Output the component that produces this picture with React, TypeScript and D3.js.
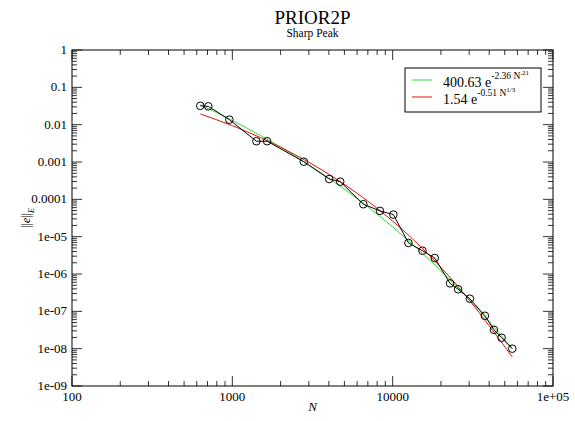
import React from "react";
import * as d3 from "d3";

const dataN = [631, 708, 958, 1413, 1648, 2790, 4020, 4710, 6560, 8330, 10100, 12540, 15340, 18300, 22800, 25600, 30300, 37600, 42800, 47800, 55700];
const dataE = [0.032, 0.031, 0.0136, 0.0036, 0.0036, 0.00102, 0.00035, 0.000297, 7.4e-5, 4.9e-5, 3.9e-5, 6.8e-6, 4.2e-6, 2.68e-6, 5.6e-7, 3.9e-7, 2.18e-7, 7.6e-8, 3.2e-8, 1.96e-8, 1.0e-8];

const fitN = [631, 1000, 1500, 2000, 3000, 4000, 6000, 8000, 10000, 15000, 20000, 30000, 40000, 55700];
const greenFit = [0.0342, 0.013, 5.1e-3, 2.5e-3, 8.43e-4, 3.67e-4, 1.045e-4, 4.0e-5, 1.82e-5, 3.92e-6, 1.22e-6, 2.06e-7, 5.3e-8, 1.0e-8];
const redFit = [0.0194, 9.39e-3, 4.49e-3, 2.49e-3, 9.85e-4, 4.69e-4, 1.455e-4, 5.73e-5, 2.61e-5, 5.31e-6, 1.5e-6, 2.02e-7, 4.1e-8, 6e-9];

const xTicks = [100, 1000, 10000, 100000];
const xTickLabels = ["100", "1000", "10000", "1e+05"];
const yTicks = [1, 0.1, 0.01, 0.001, 0.0001, 1e-5, 1e-6, 1e-7, 1e-8, 1e-9];
const yTickLabels = ["1", "0.1", "0.01", "0.001", "0.0001", "1e-05", "1e-06", "1e-07", "1e-08", "1e-09"];

const L = 72, R = 553, T = 50, B = 386;
const font = "'Liberation Serif', 'DejaVu Serif', serif";

export default function App() {
  const x = d3.scaleLog().domain([100, 1e5]).range([L, R]);
  const y = d3.scaleLog().domain([1e-9, 1]).range([B, T]);

  const xMinor: number[] = [];
  for (let d = 100; d < 1e5; d *= 10) for (let k = 2; k <= 9; k++) xMinor.push(d * k);
  const yMinor: number[] = [];
  for (let d = 1e-9; d < 0.99; d *= 10) for (let k = 2; k <= 9; k++) yMinor.push(d * k);

  const dataLine = d3.line<number>().x((_, i) => x(dataN[i])).y((v) => y(v));
  const fitLine = d3.line<number>().x((_, i) => x(fitN[i])).y((v) => y(v)).curve(d3.curveMonotoneX);

  const tickColor = "#333";
  return (
    <svg width={575} height={421} style={{ position: "absolute", left: 0, top: 0, background: "#fff" }}>
      <rect x={0} y={0} width={575} height={421} fill="#fff" />
      <text x={(L + R) / 2} y={24} textAnchor="middle" fontFamily={font} fontSize={19}>PRIOR2P</text>
      <text x={(L + R) / 2} y={37} textAnchor="middle" fontFamily={font} fontSize={11.5}>Sharp Peak</text>

      {/* minor ticks */}
      {xMinor.map((v, i) => (
        <g key={"xm" + i} stroke={tickColor} strokeWidth={1}>
          <line x1={x(v)} x2={x(v)} y1={B} y2={B - 5} />
          <line x1={x(v)} x2={x(v)} y1={T} y2={T + 5} />
        </g>
      ))}
      {xTicks.map((v, i) => (
        <g key={"xM" + i} stroke={tickColor} strokeWidth={1}>
          <line x1={x(v)} x2={x(v)} y1={B} y2={B - 10} />
          <line x1={x(v)} x2={x(v)} y1={T} y2={T + 10} />
        </g>
      ))}
      {yMinor.map((v, i) => (
        <g key={"ym" + i} stroke={tickColor} strokeWidth={1}>
          <line x1={L} x2={L + 5} y1={y(v)} y2={y(v)} />
          <line x1={R} x2={R - 5} y1={y(v)} y2={y(v)} />
        </g>
      ))}
      {yTicks.map((v, i) => (
        <g key={"yM" + i} stroke={tickColor} strokeWidth={1}>
          <line x1={L} x2={L + 10} y1={y(v)} y2={y(v)} />
          <line x1={R} x2={R - 10} y1={y(v)} y2={y(v)} />
        </g>
      ))}
      <rect x={L} y={T} width={R - L} height={B - T} fill="none" stroke="#000" strokeWidth={1} />

      {xTicks.map((v, i) => (
        <text key={"xl" + i} x={x(v)} y={B + 15} textAnchor="middle" fontFamily={font} fontSize={13}>{xTickLabels[i]}</text>
      ))}
      {yTicks.map((v, i) => (
        <text key={"yl" + i} x={L - 5} y={y(v) + 4} textAnchor="end" fontFamily={font} fontSize={13}>{yTickLabels[i]}</text>
      ))}
      <text x={(L + R) / 2} y={411} textAnchor="middle" fontFamily={font} fontSize={13} fontStyle="italic">N</text>
      <text transform={`translate(30,${(T + B) / 2}) rotate(-90)`} textAnchor="middle" fontFamily={font} fontSize={12}>
        ||<tspan fontStyle="italic">e</tspan>||<tspan fontSize={8} dy={4} fontStyle="italic">E</tspan>
      </text>

      <path d={fitLine(greenFit) || ""} fill="none" stroke="#33dd33" strokeWidth={1} />
      <path d={fitLine(redFit) || ""} fill="none" stroke="#e01010" strokeWidth={1} />
      <path d={dataLine(dataE) || ""} fill="none" stroke="#000" strokeWidth={1} />
      {dataE.map((v, i) => (
        <circle key={"c" + i} cx={x(dataN[i])} cy={y(v)} r={3.8} fill="none" stroke="#000" strokeWidth={1} />
      ))}

      {/* legend */}
      <rect x={405} y={68} width={136} height={44} fill="#fff" stroke="#000" strokeWidth={1} />
      <line x1={412} x2={432} y1={80} y2={80} stroke="#33dd33" strokeWidth={1} />
      <text x={443} y={87} fontFamily={font} fontSize={14}>
        400.63 e<tspan fontSize={9.5} dy={-8}>-2.36 N</tspan><tspan fontSize={7} dy={-4}>.21</tspan>
      </text>
      <line x1={412} x2={432} y1={97} y2={97} stroke="#e01010" strokeWidth={1} />
      <text x={443} y={104} fontFamily={font} fontSize={14}>
        1.54 e<tspan fontSize={9.5} dy={-8}>-0.51 N</tspan><tspan fontSize={7} dy={-4}>1/3</tspan>
      </text>
    </svg>
  );
}
